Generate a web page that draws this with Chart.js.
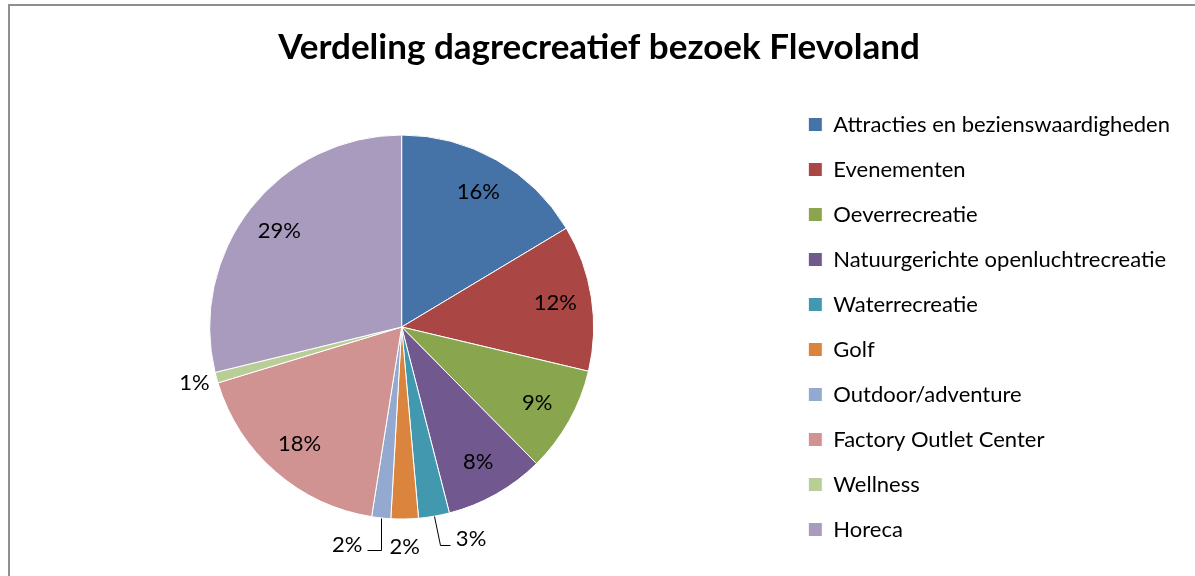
<!DOCTYPE html>
<html>
<head>
<meta charset="utf-8">
<script src="https://cdn.jsdelivr.net/npm/chart.js@4.4.0/dist/chart.umd.min.js"></script>
<style>
  html, body { margin: 0; padding: 0; background: #fff; }
  #wrap { position: absolute; left: 0; top: 0; width: 1195px; height: 576px; }
  #frame { position: absolute; left: 8px; top: 4px; width: 1200px; height: 600px;
           border-left: 2px solid #8f8f8f; border-top: 2px solid #8f8f8f; }
  canvas { position: absolute; left: 0; top: 0; }
</style>
</head>
<body>
<div id="wrap">
  <div id="frame"></div>
  <canvas id="c" width="1195" height="576"></canvas>
</div>
<script>
const titleText = 'Verdeling dagrecreatief bezoek Flevoland';
const categories = [
  'Attracties en bezienswaardigheden',
  'Evenementen',
  'Oeverrecreatie',
  'Natuurgerichte openluchtrecreatie',
  'Waterrecreatie',
  'Golf',
  'Outdoor/adventure',
  'Factory Outlet Center',
  'Wellness',
  'Horeca'
];
const shares = [16.4, 12.3, 8.9, 8.4, 2.6, 2.3, 1.6, 17.8, 0.9, 28.8];
const colors = ['#4572A7', '#AA4643', '#89A54E', '#71588F', '#4198AF',
                '#DB843D', '#93A9CF', '#D19392', '#B9CD96', '#A99BBD'];

// placement of labels that sit outside the pie (offsets from the slice's outer-edge midpoint)
const outsideLabels = {
  4: { dx: 37, dy: 23, leader: [[6, 29], [16, 29]] },
  5: { dx: 0, dy: 28 },
  6: { dx: -34, dy: 27, leader: [[0, 32], [-14, 32]] },
  8: { dx: -22, dy: 5 }
};

const pctLabels = {
  id: 'pctLabels',
  afterDatasetsDraw(chart) {
    const ctx = chart.ctx;
    const meta = chart.getDatasetMeta(0);
    const data = chart.data.datasets[0].data;
    const total = data.reduce((a, b) => a + b, 0);
    ctx.save();
    ctx.font = '22px Lato';
    ctx.fillStyle = '#000';
    ctx.strokeStyle = '#000';
    ctx.lineWidth = 1;
    ctx.textAlign = 'center';
    ctx.textBaseline = 'middle';
    meta.data.forEach((arc, i) => {
      const p = arc.getProps(['x', 'y', 'startAngle', 'endAngle', 'outerRadius'], true);
      const mid = (p.startAngle + p.endAngle) / 2;
      const txt = Math.round(data[i] / total * 100) + '%';
      const o = outsideLabels[i];
      if (o) {
        const ex = p.x + Math.cos(mid) * p.outerRadius;
        const ey = p.y + Math.sin(mid) * p.outerRadius;
        if (o.leader) {
          ctx.beginPath();
          ctx.moveTo(Math.round(ex) + 0.5, Math.round(ey) + 0.5);
          o.leader.forEach(([lx, ly]) => ctx.lineTo(Math.round(ex + lx) + 0.5, Math.round(ey + ly) + 0.5));
          ctx.stroke();
        }
        ctx.fillText(txt, ex + o.dx, ey + o.dy);
      } else {
        const r = p.outerRadius * 0.81;
        ctx.fillText(txt, p.x + Math.cos(mid) * r, p.y + Math.sin(mid) * r);
      }
    });
    ctx.restore();
  }
};

Chart.defaults.font.family = 'Lato';
Chart.defaults.color = '#000';

new Chart(document.getElementById('c'), {
  type: 'pie',
  data: {
    labels: categories,
    datasets: [{
      data: shares,
      backgroundColor: colors,
      borderColor: '#ffffff',
      borderWidth: 1,
      radius: 192
    }]
  },
  options: {
    responsive: false,
    animation: false,
    layout: { padding: { left: 18, right: 15, top: 0, bottom: 8 } },
    plugins: {
      title: {
        display: true,
        text: titleText,
        font: { size: 35, weight: 'bold', family: 'Lato' },
        color: '#000',
        padding: { top: 27, bottom: 17 }
      },
      legend: {
        position: 'right',
        align: 'center',
        fullSize: false,
        labels: {
          boxWidth: 14,
          boxHeight: 14,
          padding: 23,
          font: { size: 22, family: 'Lato' },
          color: '#000'
        }
      },
      tooltip: { enabled: false }
    }
  },
  plugins: [pctLabels]
});
</script>
</body>
</html>
